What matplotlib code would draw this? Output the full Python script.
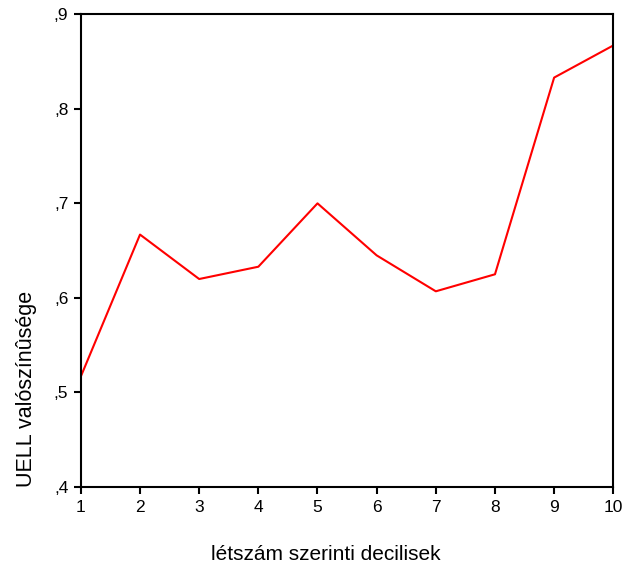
import matplotlib
matplotlib.use('agg')
import matplotlib.pyplot as plt

# data
deciles = [1, 2, 3, 4, 5, 6, 7, 8, 9, 10]
probability = [0.517, 0.667, 0.620, 0.633, 0.700, 0.645, 0.607, 0.625, 0.833, 0.867]
y_ticks = [0.4, 0.5, 0.6, 0.7, 0.8, 0.9]
y_ticklabels = [',4', ',5', ',6', ',7', ',8', ',9']

plt.rcParams['font.family'] = ['Liberation Sans', 'DejaVu Sans']

fig = plt.figure(figsize=(6.22, 5.69), dpi=100)
ax = fig.add_axes((0.130, 0.144, 0.856, 0.831))

ax.plot(deciles, probability, color='#ff0000', linewidth=1.5)

ax.set_xlim(1, 10)
ax.set_ylim(0.4, 0.9)
ax.set_xticks(deciles)
ax.set_yticks(y_ticks)
ax.set_yticklabels(y_ticklabels)
ax.tick_params(direction='out', length=5, width=1.5, labelsize=12.5, colors='black', pad=4)
for sp in ax.spines.values():
    sp.set_linewidth(1.5)
    sp.set_color('black')

ax.set_ylabel('UELL valószínûsége', fontsize=15.5, loc='bottom', labelpad=12)
fig.text(326 / 622, 1 - 555 / 569, 'létszám szerinti decilisek', fontsize=15,
         ha='center', va='center')

fig.savefig('out.png', dpi=100)
